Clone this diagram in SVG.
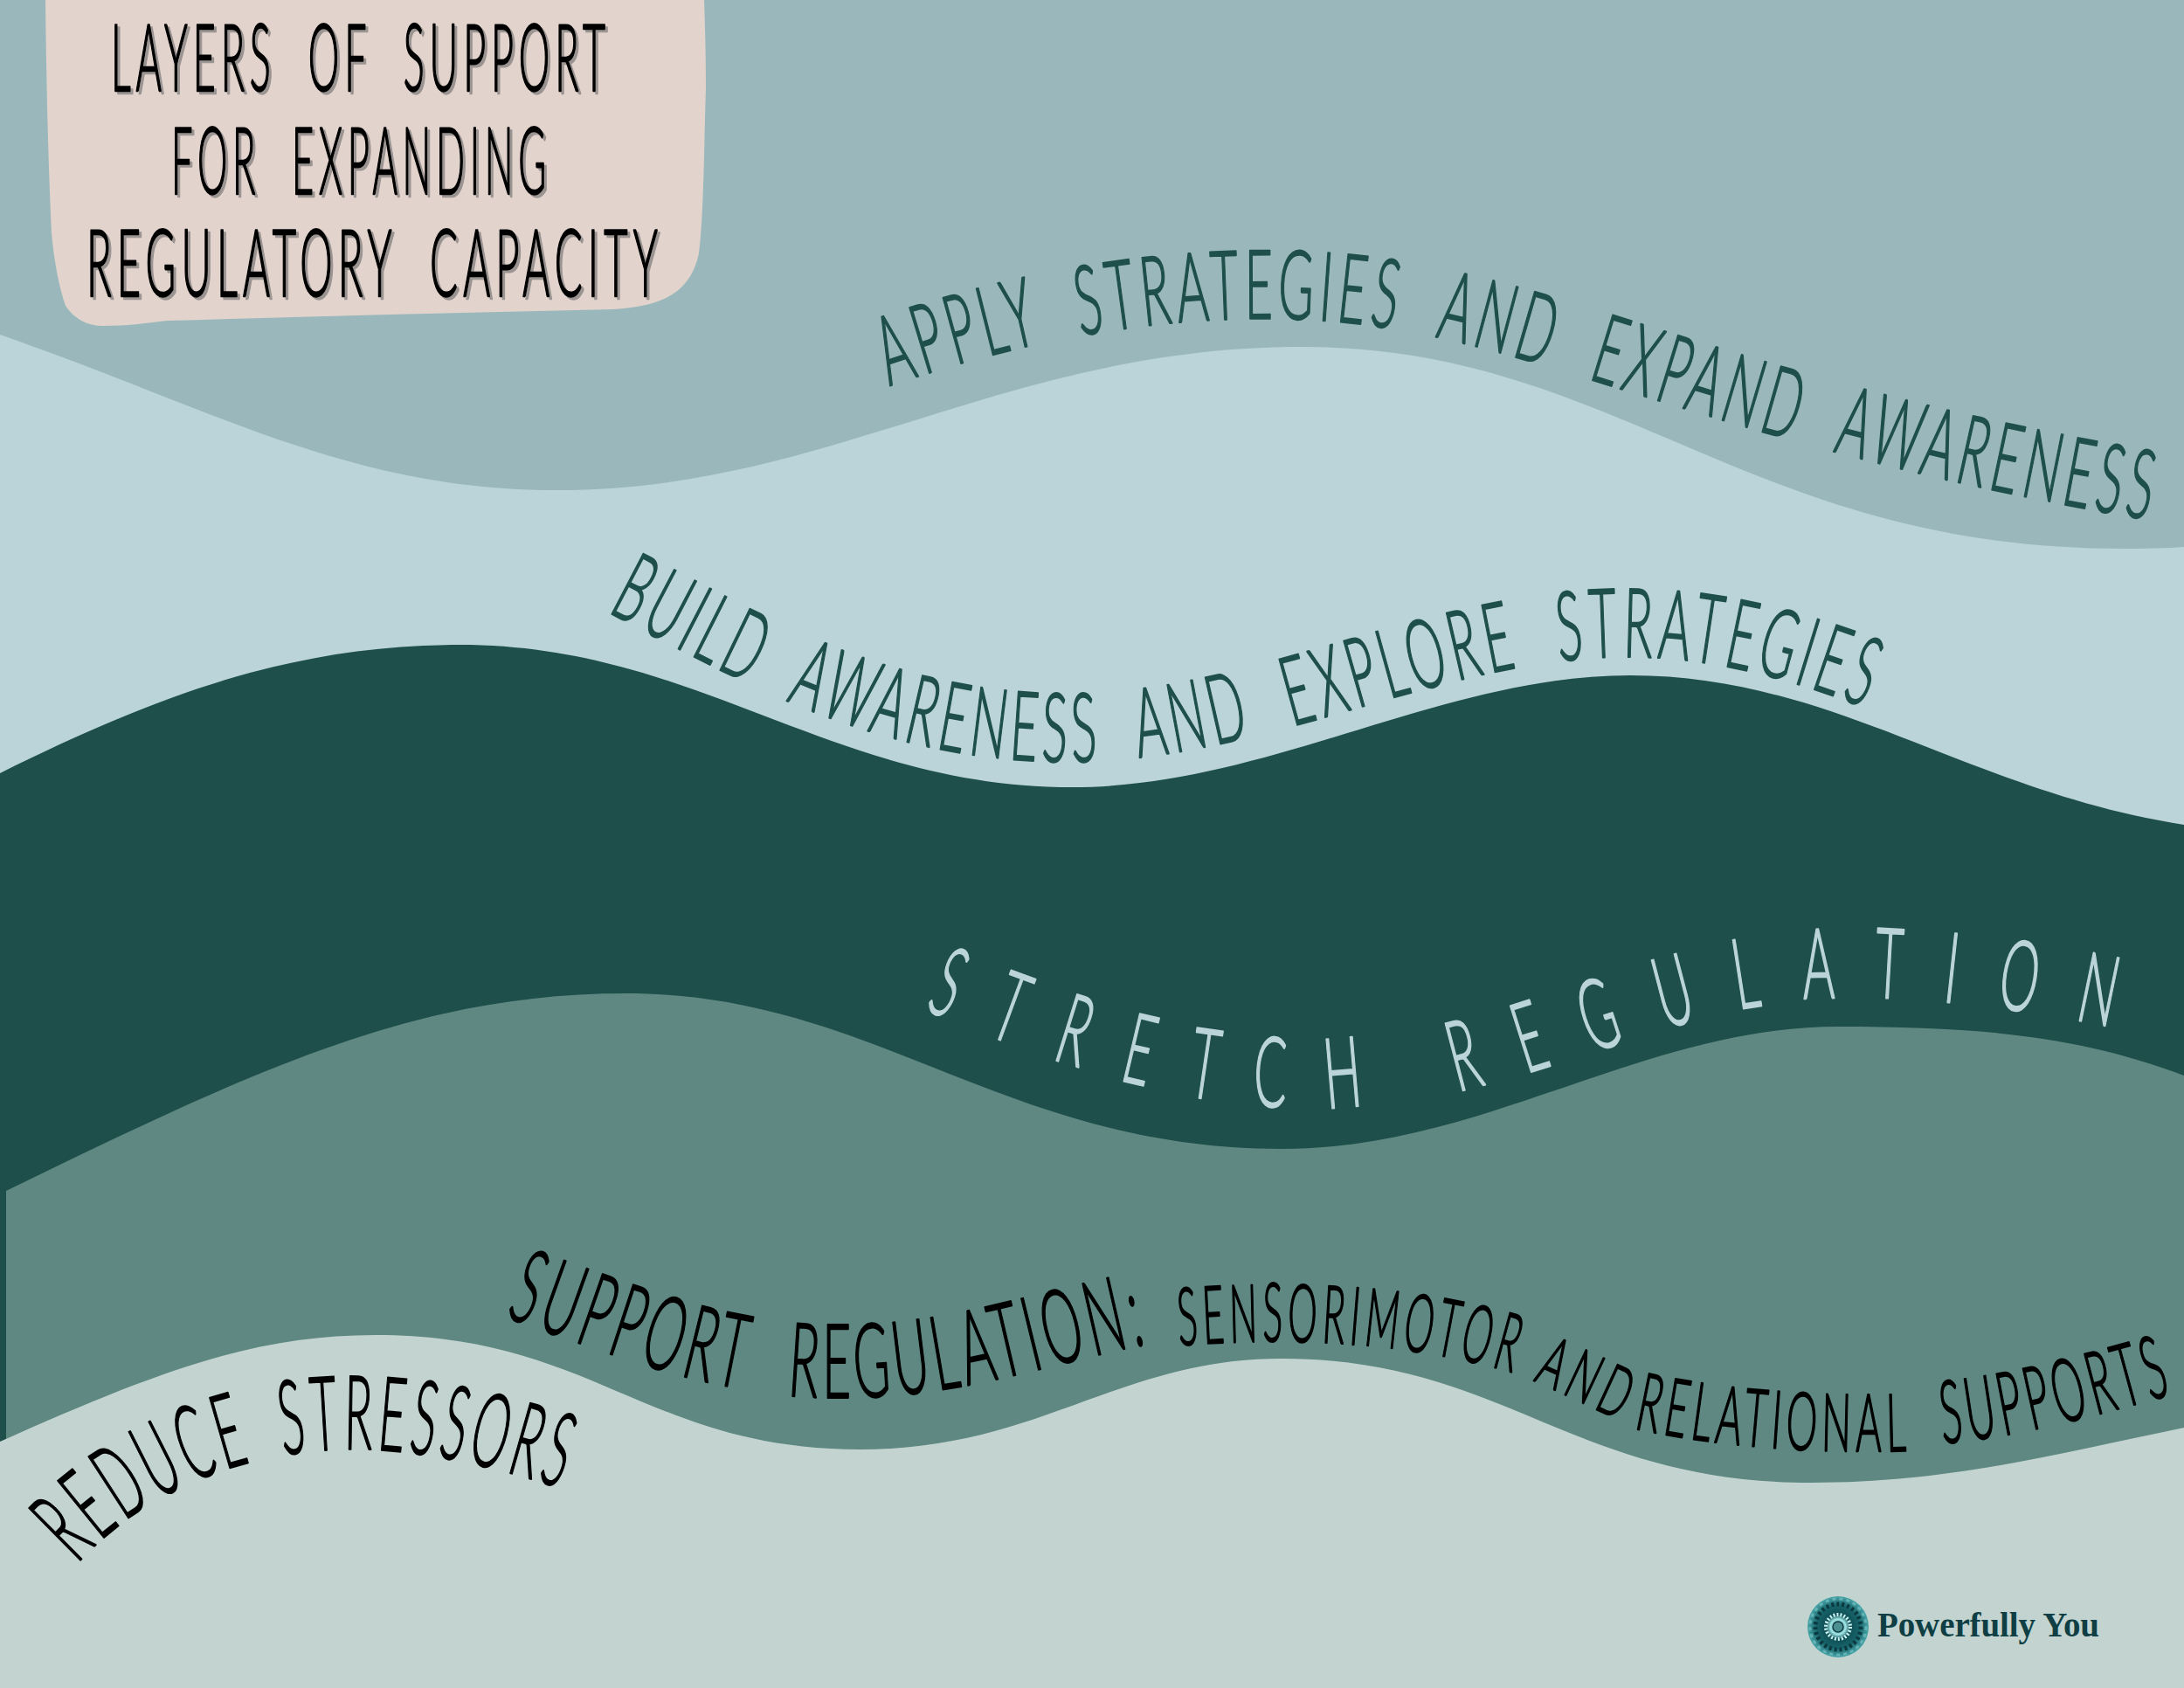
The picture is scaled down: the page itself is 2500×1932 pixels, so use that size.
<svg xmlns="http://www.w3.org/2000/svg" xmlns:xlink="http://www.w3.org/1999/xlink" width="2500" height="1932" viewBox="0 0 2500 1932">
<style>
text{font-family:"Lato","Open Sans","Liberation Sans",sans-serif;font-weight:300;text-anchor:start;stroke-linejoin:round}
.t{font-size:106px;fill:#000;stroke:#000;stroke-width:2.4px;letter-spacing:14px;word-spacing:45px}
.s{font-size:106px;fill:#9a9492;stroke:#9a9492;stroke-width:2.4px;letter-spacing:14px;word-spacing:45px}
.d{fill:#1e4f4a;stroke:#1e4f4a;stroke-width:2.2px;font-size:110px;letter-spacing:12px;word-spacing:45px}
.k{fill:#000;stroke:#000;stroke-width:2.2px;letter-spacing:12px;word-spacing:60px}
.l{fill:#bbd4d9;stroke:#bbd4d9;stroke-width:2.2px;font-size:112px;letter-spacing:95px}
</style>
<defs>
<path id="p1" d="M1018 442C1180 385 1350 358 1500 366C1750 378 1950 512 2480 598"/>
<path id="p2" d="M695 700C850 780 1000 870 1220 872C1450 872 1650 752 1860 752C1960 752 2050 775 2160 820"/>
<path id="p3" d="M1058 1155C1200 1215 1350 1268 1500 1268C1750 1268 1900 1142 2120 1142C2230 1142 2350 1160 2460 1185"/>
<path id="p4a" d="M578 1507C700 1550 820 1600 960 1600C1100 1600 1200 1560 1325 1536"/>
<path id="p4b" d="M1350 1540C1450 1532 1600 1530 1745 1575"/>
<path id="p4c" d="M1755 1580C1790 1595 1830 1615 1875 1635"/>
<path id="p4d" d="M1870 1635C1960 1655 2080 1665 2200 1660"/>
<path id="p4e" d="M2224 1652C2310 1645 2400 1620 2500 1592"/>
<path id="p5" d="M88 1790C170 1700 300 1650 440 1660C510 1665 570 1680 670 1712"/>
<radialGradient id="lg"><stop offset="0" stop-color="#2f8a8f"/><stop offset=".25" stop-color="#9fe3e3"/><stop offset=".4" stop-color="#0f4f55"/><stop offset=".7" stop-color="#17636a"/><stop offset="1" stop-color="#48a5a8"/></radialGradient>
</defs>
<g id="bands">
<rect id="band-top" width="2500" height="1932" fill="#9ab8bc"/>
<path id="band-apply" fill="#bbd4d9" d="M0 383C250 470 400 561 638 561C950 561 1150 397 1491 397C1850 397 2000 628 2430 628Q2470 628 2500 626V1932H0Z"/>
<path id="band-build" fill="#1e4f4a" d="M0 885C200 785 350 738 526 738C800 738 950 901 1228 901C1450 901 1650 773 1866 773C2100 773 2250 905 2500 944V1932H0Z"/>
<path id="band-stretch" fill="#5f8882" d="M7 1363C300 1220 480 1137 717 1137C1000 1137 1150 1315 1467 1315C1700 1315 1880 1175 2105 1175C2260 1175 2380 1185 2500 1231V1932H7Z"/>
<path id="band-support" fill="#c3d4d0" d="M0 1650C180 1570 290 1528 430 1528C680 1528 740 1659 985 1659C1190 1659 1280 1555 1467 1555C1720 1555 1800 1697 2073 1697C2230 1697 2350 1665 2500 1634V1932H0Z"/>
</g>
<g id="title">
<path fill="#e2d3cc" d="M52 0C53 90 55 180 59 267C62 300 68 330 75 350C85 365 100 373 118 373C145 373 165 370 192 367C360 362 530 358 702 354C760 350 790 335 800 290C806 240 806 160 808 100C808 60 807 30 806 0Z"/>
<text class="s" x="130" y="107" textLength="572" lengthAdjust="spacingAndGlyphs">LAYERS OF SUPPORT</text>
<text class="s" x="199" y="225" textLength="435" lengthAdjust="spacingAndGlyphs">FOR EXPANDING</text>
<text class="s" x="102" y="342" textLength="660" lengthAdjust="spacingAndGlyphs">REGULATORY CAPACITY</text>
<text class="t" x="127" y="104" textLength="572" lengthAdjust="spacingAndGlyphs">LAYERS OF SUPPORT</text>
<text class="t" x="196" y="222" textLength="435" lengthAdjust="spacingAndGlyphs">FOR EXPANDING</text>
<text class="t" x="99" y="339" textLength="660" lengthAdjust="spacingAndGlyphs">REGULATORY CAPACITY</text>
</g>
<g id="labels">
<text class="d"><textPath href="#p1" textLength="1485" lengthAdjust="spacingAndGlyphs">APPLY STRATEGIES AND EXPAND AWARENESS</textPath></text>
<text class="d"><textPath href="#p2" textLength="1500" lengthAdjust="spacingAndGlyphs">BUILD AWARENESS AND EXPLORE STRATEGIES</textPath></text>
<text class="l"><textPath href="#p3" textLength="1440" lengthAdjust="spacingAndGlyphs">STRETCH REGULATION</textPath></text>
<text class="k" font-size="118"><textPath href="#p4a" textLength="760" lengthAdjust="spacingAndGlyphs">SUPPORT REGULATION:</textPath></text>
<text class="k" font-size="92"><textPath href="#p4b" textLength="390" lengthAdjust="spacingAndGlyphs">SENSORIMOTOR</textPath></text>
<text class="k" font-size="80"><textPath href="#p4c" textLength="115" lengthAdjust="spacingAndGlyphs">AND</textPath></text>
<text class="k" font-size="92"><textPath href="#p4d" textLength="320" lengthAdjust="spacingAndGlyphs">RELATIONAL</textPath></text>
<text class="k" font-size="100"><textPath href="#p4e" textLength="274" lengthAdjust="spacingAndGlyphs">SUPPORTS</textPath></text>
<text class="k" font-size="118" style="word-spacing:30px"><textPath href="#p5" textLength="600" lengthAdjust="spacingAndGlyphs">REDUCE STRESSORS</textPath></text>
</g>
<g id="logo">
<circle cx="2104" cy="1862" r="35" fill="url(#lg)"/>
<circle cx="2104" cy="1862" r="26" fill="none" stroke="#0a3a40" stroke-width="5" stroke-dasharray="3 3"/>
<circle cx="2104" cy="1862" r="32" fill="none" stroke="#7fc9c9" stroke-width="3" stroke-dasharray="4 4" opacity=".6"/>
<circle cx="2104" cy="1862" r="14" fill="none" stroke="#c8f2f2" stroke-width="4" stroke-dasharray="2 2"/>
<circle cx="2104" cy="1862" r="6" fill="#4b8f92" stroke="#123c42" stroke-width="1.5"/>
<text x="2149" y="1873" textLength="254" style="font-family:'Liberation Serif',serif;font-weight:700;font-size:39px" fill="#0f3f44">Powerfully You</text>
</g>
</svg>
